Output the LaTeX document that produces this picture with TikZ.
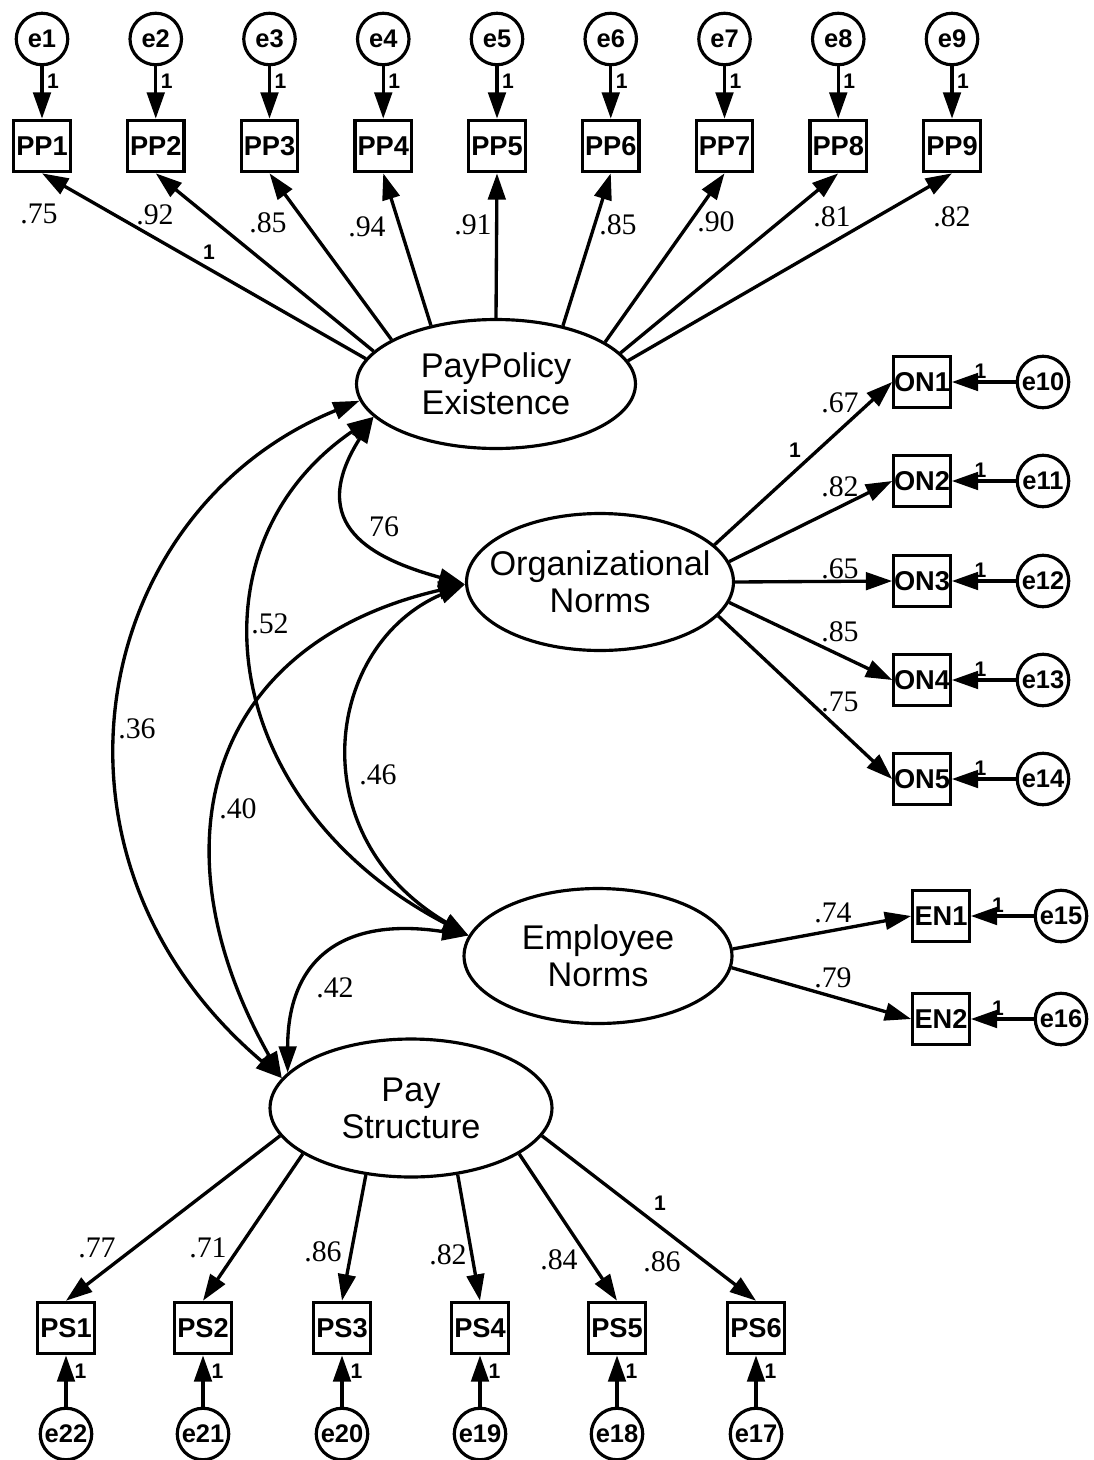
\documentclass[tikz,border=0pt]{standalone}
\usepackage{fontspec}
\setmainfont{Liberation Serif}
\setsansfont{Liberation Sans}
\usetikzlibrary{arrows.meta,shapes.geometric}

\begin{document}
\begin{tikzpicture}[x=0.02cm,y=-0.02cm,
        obs/.style={draw, line width=1.8pt, minimum width=1.13cm, minimum height=1.03cm, inner sep=0pt, font=\sffamily\bfseries\fontsize{15.5}{15.5}\selectfont},
        err/.style={draw, circle, line width=1.8pt, minimum size=1.03cm, inner sep=0pt, font=\sffamily\bfseries\fontsize{14.5}{14.5}\selectfont},
        lat/.style={draw, ellipse, line width=1.8pt, align=center, inner sep=0pt, font=\sffamily\fontsize{19.5}{21}\selectfont},
        loadarrow/.style={line width=1.9pt, -{Triangle[length=15pt,width=10pt]}},
        corr/.style={line width=1.9pt, {Triangle[length=15pt,width=10pt]}-{Triangle[length=15pt,width=10pt]}},
        coef/.style={inner sep=0pt, font=\fontsize{17}{17}\selectfont},
        one/.style={inner sep=0pt, font=\sffamily\bfseries\fontsize{12}{12}\selectfont}]
        \useasboundingbox (0,0) rectangle (1094,1460);

        % latent factors
        \node[lat, minimum width=5.58cm, minimum height=2.58cm] (pp) at (496,384) {\makebox[0pt]{PayPolicy}\\\makebox[0pt]{Existence}};
        \node[lat, minimum width=5.34cm, minimum height=2.74cm] (on) at (600,582) {\makebox[0pt]{Organizational}\\\makebox[0pt]{Norms}};
        \node[lat, minimum width=5.36cm, minimum height=2.70cm] (en) at (598,956) {\makebox[0pt]{Employee}\\\makebox[0pt]{Norms}};
        \node[lat, minimum width=5.64cm, minimum height=2.76cm] (ps) at (411,1108) {\makebox[0pt]{Pay}\\\makebox[0pt]{Structure}};

        % PayPolicy Existence
        \foreach \i/\a/\v/\lx/\ly in {1/169/.75/39/214, 2/165/.92/155/215, 3/157/.85/268/223, 4/138/.94/367/227, 5/90/.91/473/225, 6/41/.85/618/225, 7/21/.90/716/222, 8/14/.81/832/217, 9/10/.82/952/217}{
            \pgfmathsetmacro{\x}{42+113.75*(\i-1)}
            \node[err] (e\i) at (\x,39) {e\i};
            \node[obs] (pp\i) at (\x,146) {PP\i};
            \draw[loadarrow] (e\i) -- node[one, right=2pt, pos=0.28] {1} (pp\i);
            \draw[loadarrow] (pp.\a) -- (pp\i.south);
            \node[coef] (lpp\i) at (\lx,\ly) {\v};
        }
        \node[one] (fixpp) at (209,252) {1};

        % Organizational Norms
        \foreach \i/\a/\y/\v/\ly in {1/18/382/.67/403, 2/9/481/.82/487, 3/0/581/.65/569, 4/-9/680/.85/632, 5/-16/779/.75/702}{
            \pgfmathtruncatemacro{\j}{\i+9}
            \node[obs] (on\i) at (922,\y) {ON\i};
            \node[err] (e\j) at (1043,\y) {e\j};
            \draw[loadarrow] (e\j) -- node[one, above=1pt, pos=0.55] {1} (on\i);
            \draw[loadarrow] (on.\a) -- (on\i.west);
            \node[coef] (lon\i) at (840,\ly) {\v};
        }
        \node[one] (fixon) at (795,450) {1};

        % Employee Norms
        \foreach \i/\a/\y/\v/\ly in {1/3/916/.74/913, 2/-5/1019/.79/978}{
            \pgfmathtruncatemacro{\j}{\i+14}
            \node[obs] (en\i) at (941,\y) {EN\i};
            \node[err] (e\j) at (1061,\y) {e\j};
            \draw[loadarrow] (e\j) -- node[one, above=1pt, pos=0.57] {1} (en\i);
            \draw[loadarrow] (en.\a) -- (en\i.west);
            \node[coef] (len\i) at (833,\ly) {\v};
        }

        % Pay Structure
        \foreach \i/\x/\a/\v/\lx/\ly in {1/66/192/.77/97/1248, 2/203/203/.71/208/1248, 3/342/236/.86/323/1252, 4/480/305/.82/448/1255, 5/617/337/.84/559/1260, 6/756/348/.86/662/1262}{
            \pgfmathtruncatemacro{\j}{23-\i}
            \node[obs] (ps\i) at (\x,1328) {PS\i};
            \node[err] (e\j) at (\x,1434) {e\j};
            \draw[loadarrow] (e\j) -- node[one, right=4pt, pos=0.7] {1} (ps\i);
            \draw[loadarrow] (ps.\a) -- (ps\i.north);
            \node[coef] (lps\i) at (\lx,\ly) {\v};
        }
        \node[one] (fixps) at (660,1203) {1};

        % correlations
        \draw[corr] (pp.195) .. controls +(-70,110) and +(-90,-25) .. (on.181);
        \draw[corr] (pp.195) .. controls +(-190,130) and +(-250,-130) .. (en.171);
        \draw[corr] (pp.187) .. controls +(-270,110) and +(-260,-220) .. (ps.167);
        \draw[corr] (on.181) .. controls +(-140,60) and +(-170,-100) .. (en.171);
        \draw[corr] (on.181) .. controls +(-260,60) and +(-130,-230) .. (ps.167);
        \draw[corr] (en.171) .. controls +(-130,-20) and +(0,-110) .. (ps.164);

        \node[coef] (c76) at (384,527) {76};
        \node[coef] (c52) at (270,624) {.52};
        \node[coef] (c36) at (137,729) {.36};
        \node[coef] (c40) at (238,809) {.40};
        \node[coef] (c46) at (378,775) {.46};
        \node[coef] (c42) at (335,988) {.42};
    \end{tikzpicture}
\end{document}
